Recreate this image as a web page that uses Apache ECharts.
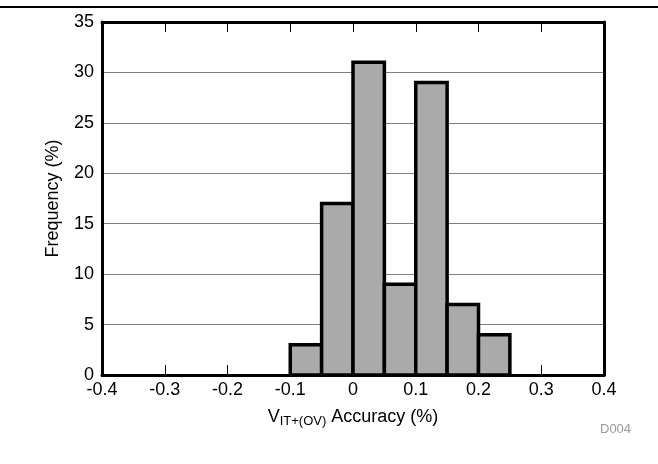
<!DOCTYPE html>
<html>
<head>
<meta charset="utf-8">
<script src="https://cdn.jsdelivr.net/npm/echarts@6/dist/echarts.min.js"></script>
<style>html,body{margin:0;padding:0;background:#fff}#c{width:658px;height:464px}</style>
</head>
<body>
<div id="c"></div>
<script>
const binStart = [-0.1, -0.05, 0, 0.05, 0.1, 0.15, 0.2];
const binEnd = [-0.05, 0, 0.05, 0.1, 0.15, 0.2, 0.25];
const frequency = [3, 17, 31, 9, 29, 7, 4];
const xTicks = [-0.4, -0.3, -0.2, -0.1, 0, 0.1, 0.2, 0.3, 0.4];
const yTicks = [0, 5, 10, 15, 20, 25, 30, 35];

const FONT = '"Liberation Sans", Arial, Helvetica, sans-serif';
const chart = echarts.init(document.getElementById('c'), null, {renderer: 'canvas'});
const data = binStart.map((s, i) => [s, binEnd[i], frequency[i]]);

chart.setOption({
  animation: false,
  backgroundColor: '#fff',
  grid: {left: 102, right: 54, top: 22, bottom: 89, containLabel: false},
  xAxis: [{
    type: 'value', position: 'bottom',
    min: xTicks[0], max: xTicks[xTicks.length - 1], interval: 0.1,
    axisLine: {show: true, onZero: false, lineStyle: {color: '#000', width: 3}},
    axisTick: {show: true, inside: true, length: 10, lineStyle: {color: '#000', width: 1}},
    axisLabel: {color: '#000', fontSize: 18, fontFamily: FONT, margin: 6,
      formatter: v => (Math.round(v * 10) / 10).toString()},
    splitLine: {show: false},
    name: '{v|V}{s|IT+(OV)}{v| Accuracy (%)}',
    nameLocation: 'middle', nameGap: 31,
    nameTextStyle: {rich: {
      v: {fontSize: 18, fontFamily: FONT, color: '#000'},
      s: {fontSize: 13, fontFamily: FONT, color: '#000', padding: [9, 0, 0, 0]}
    }}
  }, {
    type: 'value', position: 'top',
    min: xTicks[0], max: xTicks[xTicks.length - 1], interval: 0.1,
    axisLine: {show: true, onZero: false, lineStyle: {color: '#000', width: 3}},
    axisTick: {show: true, inside: true, length: 10, lineStyle: {color: '#000', width: 1}},
    axisLabel: {show: false},
    splitLine: {show: false}
  }],
  yAxis: [{
    type: 'value', position: 'left',
    min: yTicks[0], max: yTicks[yTicks.length - 1], interval: 5,
    axisLine: {show: true, onZero: false, lineStyle: {color: '#000', width: 3}},
    axisTick: {show: false},
    axisLabel: {color: '#000', fontSize: 18, fontFamily: FONT, margin: 8},
    splitLine: {show: true, lineStyle: {color: '#7f7f7f', width: 1}},
    name: 'Frequency (%)', nameLocation: 'middle', nameGap: 40, nameRotate: 90,
    nameTextStyle: {fontSize: 18, fontFamily: FONT, color: '#000'}
  }, {
    type: 'value', position: 'right',
    min: yTicks[0], max: yTicks[yTicks.length - 1], interval: 5,
    axisLine: {show: true, onZero: false, lineStyle: {color: '#000', width: 3}},
    axisTick: {show: false},
    axisLabel: {show: false},
    splitLine: {show: false}
  }],
  series: [{
    type: 'custom',
    xAxisIndex: 0, yAxisIndex: 0,
    data: data,
    encode: {x: [0, 1], y: 2},
    z: 3,
    renderItem: function (params, api) {
      const p0 = api.coord([api.value(0), 0]);
      const p1 = api.coord([api.value(1), api.value(2)]);
      return {
        type: 'rect',
        shape: {x: p0[0], y: p1[1], width: p1[0] - p0[0], height: p0[1] - p1[1]},
        style: {fill: '#aaaaaa', stroke: '#000', lineWidth: 3.5}
      };
    }
  }],
  graphic: [
    {type: 'line', shape: {x1: 0, y1: 7, x2: 658, y2: 7}, style: {stroke: '#000', lineWidth: 2}},
    {type: 'text', left: 600, top: 423, style: {text: 'D004', fill: '#9a9a9a', fontSize: 13, fontFamily: FONT}}
  ]
});
</script>
</body>
</html>
